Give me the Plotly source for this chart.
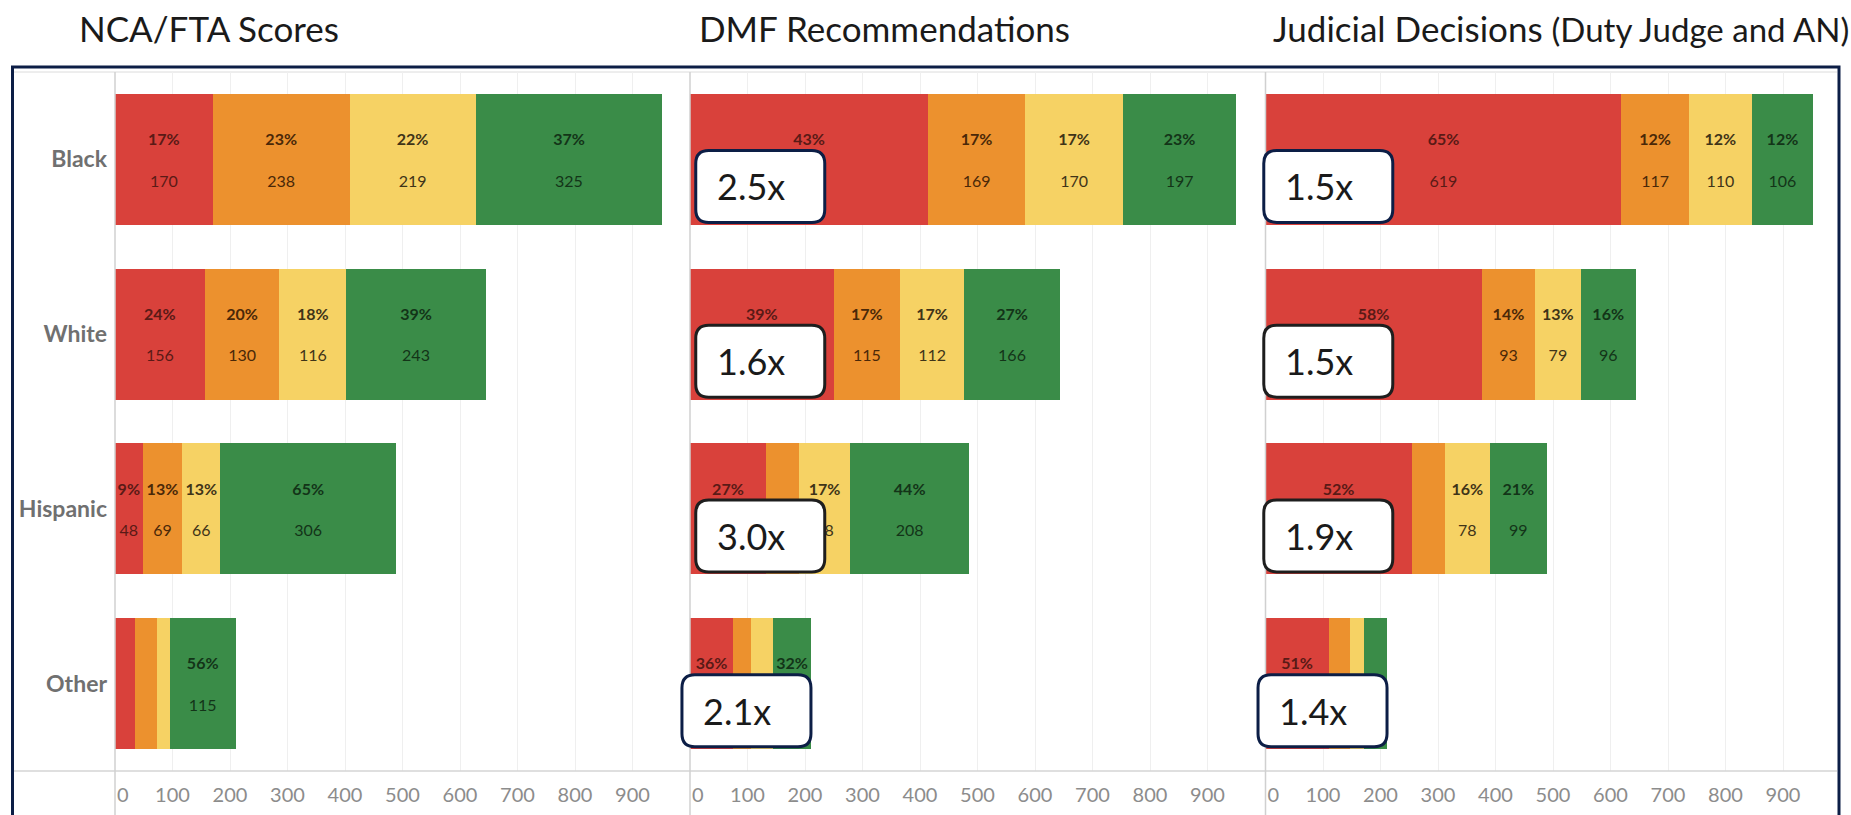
import plotly.graph_objects as go

W, H = 1851, 815

# ---------------- data ----------------
categories = ["Black", "White", "Hispanic", "Other"]
panel_titles = ["NCA/FTA Scores", "DMF Recommendations", "Judicial Decisions"]
title_note = "(Duty Judge and AN)"

nca_red = [170, 156, 48, 35]
nca_orange = [238, 130, 69, 38]
nca_yellow = [219, 116, 66, 22]
nca_green = [325, 243, 306, 115]
nca_red_pct = ["17%", "24%", "9%", ""]
nca_orange_pct = ["23%", "20%", "13%", ""]
nca_yellow_pct = ["22%", "18%", "13%", ""]
nca_green_pct = ["37%", "39%", "65%", "56%"]

dmf_red = [414, 250, 132, 75]
dmf_orange = [169, 115, 58, 31]
dmf_yellow = [170, 112, 88, 38]
dmf_green = [197, 166, 208, 67]
dmf_red_pct = ["43%", "39%", "27%", "36%"]
dmf_orange_pct = ["17%", "17%", "", ""]
dmf_yellow_pct = ["17%", "17%", "17%", ""]
dmf_green_pct = ["23%", "27%", "44%", "32%"]
dmf_ratio = ["2.5x", "1.6x", "3.0x", "2.1x"]

jud_red = [619, 376, 254, 110]
jud_orange = [117, 93, 58, 37]
jud_yellow = [110, 79, 78, 25]
jud_green = [106, 96, 99, 39]
jud_red_pct = ["65%", "58%", "52%", "51%"]
jud_orange_pct = ["12%", "14%", "", ""]
jud_yellow_pct = ["12%", "13%", "16%", ""]
jud_green_pct = ["12%", "16%", "21%", ""]
jud_ratio = ["1.5x", "1.5x", "1.9x", "1.4x"]

# count labels that sit fully under the ratio call-out boxes (not visible)
dmf_red_cnt_hidden = [True, True, True, True]
dmf_green_cnt_hidden = [False, False, False, True]
jud_red_cnt_hidden = [False, True, True, True]

tick_vals = [0, 100, 200, 300, 400, 500, 600, 700, 800, 900]
tick_text = ["\u00a0\u00a0\u00a00", "100", "200", "300", "400", "500", "600", "700", "800", "900"]

# ---------------- styles ----------------
FONT = "Lato"
bar_colors = ["#d9413b", "#ec912e", "#f6d264", "#3a8c48"]
text_colors = ["#5a1a16", "#4a2808", "#3f3418", "#133418"]
NAVY = "#0c1e46"

# geometry (pixels)
px_left = [115, 690, 1265.5]
px_right = [690, 1265.5, 1838]
px_per_unit = 0.575
plot_top, plot_bottom = 72, 771


def xp(px):
    return px / W


def yp(py):
    return 1 - py / H


no_hide = [False] * 4
panels = [
    ([nca_red, nca_orange, nca_yellow, nca_green],
     [nca_red_pct, nca_orange_pct, nca_yellow_pct, nca_green_pct],
     [no_hide, no_hide, no_hide, no_hide], None),
    ([dmf_red, dmf_orange, dmf_yellow, dmf_green],
     [dmf_red_pct, dmf_orange_pct, dmf_yellow_pct, dmf_green_pct],
     [dmf_red_cnt_hidden, no_hide, no_hide, dmf_green_cnt_hidden], dmf_ratio),
    ([jud_red, jud_orange, jud_yellow, jud_green],
     [jud_red_pct, jud_orange_pct, jud_yellow_pct, jud_green_pct],
     [jud_red_cnt_hidden, no_hide, no_hide, no_hide], jud_ratio),
]

fig = go.Figure()
rows = list(range(len(categories)))

for p, (vals, pcts, hides, _) in enumerate(panels):
    sfx = "" if p == 0 else str(p + 1)
    for k in range(4):
        texts = []
        for pc, v, hid in zip(pcts[k], vals[k], hides[k]):
            if not pc:
                texts.append("")
            else:
                cnt = "\u00a0" if hid else str(v)
                texts.append(f"<b>{pc}</b><br><br>{cnt}")
        fig.add_trace(go.Bar(
            x=vals[k], y=rows, orientation="h",
            marker=dict(color=bar_colors[k], line=dict(width=0)),
            text=texts, textposition="inside", insidetextanchor="middle",
            textangle=0, constraintext="none",
            textfont=dict(family=FONT, size=16, color=text_colors[k]),
            hoverinfo="skip", showlegend=False,
            xaxis="x" + sfx, yaxis="y" + sfx,
        ))

layout = dict(
    width=W, height=H, margin=dict(l=0, r=0, t=0, b=0, autoexpand=False),
    paper_bgcolor="white", plot_bgcolor="white",
    barmode="stack", bargap=0.25,
    uniformtext=dict(minsize=16, mode="show"),
    font=dict(family=FONT),
)

for p in range(3):
    sfx = "" if p == 0 else str(p + 1)
    rng_max = (px_right[p] - px_left[p]) / px_per_unit
    layout["xaxis" + sfx] = dict(
        domain=[xp(px_left[p]), xp(px_right[p])], range=[0, rng_max],
        anchor="y" + sfx, tickvals=tick_vals, ticktext=tick_text,
        showgrid=True, gridcolor="#efefef", gridwidth=1, zeroline=False,
        showline=False, ticks="", ticklabelstandoff=10, automargin=False,
        tickfont=dict(family=FONT, size=20, color="#8c8c8c"), fixedrange=True,
    )
    layout["yaxis" + sfx] = dict(
        domain=[yp(plot_bottom), yp(plot_top)], range=[3.5, -0.5],
        anchor="x" + sfx, tickvals=rows, ticktext=categories,
        showticklabels=(p == 0), showgrid=False, zeroline=False, showline=False,
        ticks="", ticklabelstandoff=7, automargin=False,
        tickfont=dict(family=FONT, size=23, color="#707070", weight="bold"),
        fixedrange=True,
    )

fig.update_layout(**layout)

shapes = []
annotations = []

# frame and structural lines
shapes.append(dict(type="rect", xref="paper", yref="paper",
                   x0=xp(12.5), x1=xp(1839), y0=yp(67), y1=-0.05,
                   line=dict(color=NAVY, width=3), fillcolor="rgba(0,0,0,0)", layer="above"))
shapes.append(dict(type="line", xref="paper", yref="paper",
                   x0=xp(14), x1=xp(1837), y0=yp(plot_top), y1=yp(plot_top),
                   line=dict(color="#dcdcdc", width=1), layer="below"))
shapes.append(dict(type="line", xref="paper", yref="paper",
                   x0=xp(14), x1=xp(1837), y0=yp(plot_bottom), y1=yp(plot_bottom),
                   line=dict(color="#d4d4d4", width=1.5), layer="above"))
for p in range(3):
    shapes.append(dict(type="line", xref="paper", yref="paper",
                       x0=xp(px_left[p]), x1=xp(px_left[p]), y0=yp(plot_top), y1=0,
                       line=dict(color="#d0d0d0", width=1.5), layer="above"))

# ratio call-out boxes
row_px = (plot_bottom - plot_top) / len(categories)


def data_to_px(p, v):
    return px_left[p] + v * px_per_unit


def row_to_py(r):
    return plot_top + (r + 0.5) * row_px


def rounded_path(x0, y0, x1, y1, r):
    X0, X1 = xp(x0), xp(x1)
    Y0, Y1 = yp(y0), yp(y1)
    rx, ry = r / W, r / H
    return (f"M {X0 + rx},{Y0} L {X1 - rx},{Y0} Q {X1},{Y0} {X1},{Y0 - ry} "
            f"L {X1},{Y1 + ry} Q {X1},{Y1} {X1 - rx},{Y1} L {X0 + rx},{Y1} "
            f"Q {X0},{Y1} {X0},{Y1 + ry} L {X0},{Y0 - ry} Q {X0},{Y0} {X0 + rx},{Y0} Z")


box_start = {1: [10, 10, 10, -14], 2: [-3, -3, -3, -13]}
box_border = [NAVY, "#1e1e1e", "#1e1e1e", NAVY]
for p in (1, 2):
    ratios = panels[p][3]
    for r, label in enumerate(ratios):
        x0 = data_to_px(p, box_start[p][r])
        x1 = x0 + 129
        cy = row_to_py(r) + 27
        y0, y1 = cy - 36, cy + 36
        shapes.append(dict(type="path", xref="paper", yref="paper",
                           path=rounded_path(x0, y0, x1, y1, 13),
                           fillcolor="white", line=dict(color=box_border[r], width=3),
                           layer="above"))
        annotations.append(dict(xref="paper", yref="paper", x=xp(x0 + 19), y=yp(cy),
                                xanchor="left", yanchor="middle", showarrow=False,
                                text=label, font=dict(family=FONT, size=36, color="#1a1a1a")))

# panel titles
title_px = [77, 697, 1271]
for p, t in enumerate(panel_titles):
    txt = t if p < 2 else f"{t} <span style='font-size:33px'>{title_note}</span>"
    annotations.append(dict(xref="paper", yref="paper", x=xp(title_px[p]), y=yp(28),
                            xanchor="left", yanchor="middle", showarrow=False,
                            text=txt, font=dict(family=FONT, size=35, color="#1a1a1a")))

fig.update_layout(shapes=shapes, annotations=annotations)
fig.write_html(
    "out.html",
    config={"displayModeBar": False},
    post_script="document.body.style.margin='0';document.body.style.overflow='hidden';",
)
